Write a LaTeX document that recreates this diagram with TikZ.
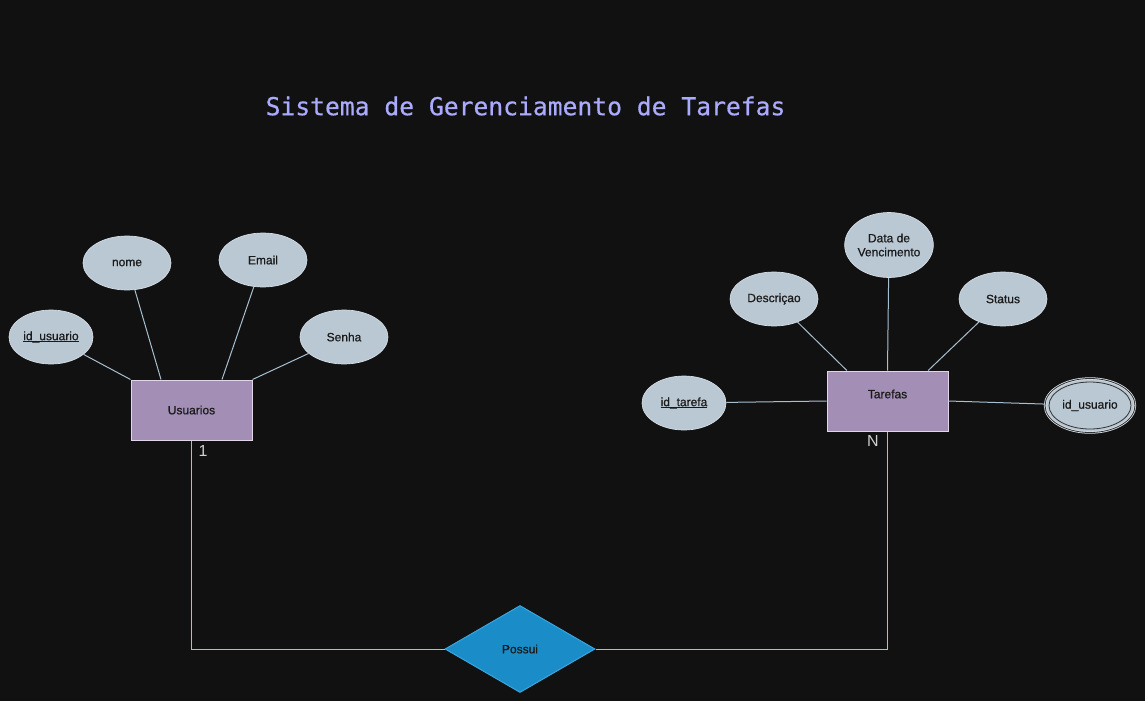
\documentclass[tikz,border=0pt]{standalone}
\usepackage{fontspec}
\setmainfont{Liberation Sans}
\newfontfamily\shapefont[FakeBold=0.7]{Liberation Sans}
\newfontfamily\titlefont[FakeBold=0.5]{DejaVu Sans Mono}
\usetikzlibrary{shapes.geometric,calc}
\definecolor{bgc}{HTML}{111111}
\definecolor{attrfill}{HTML}{BAC8D3}
\definecolor{attrdraw}{HTML}{D6DFE6}
\definecolor{entfill}{HTML}{A38EB5}
\definecolor{entdraw}{HTML}{E1D5E7}
\definecolor{relfill}{HTML}{1A8DC8}
\definecolor{reldraw}{HTML}{3AA6E0}
\definecolor{linec}{HTML}{A8BFD0}
\definecolor{txtc}{HTML}{1A1A1A}
\definecolor{cardc}{HTML}{D0D0D0}
\definecolor{titlec}{HTML}{AAAAFF}
\newcommand\keyul[1]{\setbox0\hbox{#1}\rlap{\rule[-1.1pt]{\wd0}{0.5pt}}\box0}
\tikzset{
  attr/.style={ellipse, fill=attrfill, draw=attrdraw, line width=0.5pt, inner sep=0pt,
    minimum width=66pt, minimum height=40.5pt, text=txtc, font=\shapefont\fontsize{9pt}{10.5pt}\selectfont, align=center},
  entity/.style={rectangle, fill=entfill, draw=entdraw, line width=0.75pt, inner sep=0pt,
    minimum width=90.75pt, minimum height=45pt, text=txtc, font=\shapefont\fontsize{9pt}{10.5pt}\selectfont},
  relation/.style={diamond, fill=relfill, draw=reldraw, line width=0.75pt, inner sep=0pt,
    minimum width=112.5pt, minimum height=65.25pt, text=txtc, font=\shapefont\fontsize{9pt}{10.5pt}\selectfont},
  conn/.style={draw=linec, line width=0.75pt},
  card/.style={text=cardc, font=\fontsize{12pt}{14pt}\selectfont, inner sep=0pt},
}
\begin{document}
\begin{tikzpicture}[x=0.75pt, y=-0.75pt]
\useasboundingbox (0,0) rectangle (1145,700);
\fill[bgc] (-5,-5) rectangle (1150,705);

\node[text=titlec, font=\titlefont\fontsize{18.5pt}{22pt}\selectfont, inner sep=0pt] (title) at (525.5,106) {Sistema de Gerenciamento de Tarefas};

% Usuarios
\node[entity] (usr) at (191.5,410) {Usuarios};
\node[attr, minimum width=63pt] (uid) at (51,337) {\keyul{id\_usuario}};
\node[attr] (unome) at (127,263) {nome};
\node[attr] (uemail) at (263,260) {Email};
\node[attr] (usenha) at (344,337) {Senha};

\draw[conn] (uid) -- (usr.north west);
\draw[conn] (unome) -- ($(usr.north west)!0.25!(usr.north east)$);
\draw[conn] (uemail) -- ($(usr.north west)!0.75!(usr.north east)$);
\draw[conn] (usenha) -- (usr.north east);

% Tarefas
\node[entity, label={[text=txtc, font=\shapefont\fontsize{9pt}{10.5pt}\selectfont, yshift=5.25pt]center:Tarefas}] (tar) at (887.5,401) {};
\node[attr, minimum width=63pt] (tid) at (684,403) {\keyul{id\_tarefa}};
\node[attr] (tdesc) at (774,299) {Descriçao};
\node[attr, minimum height=48.75pt] (tdata) at (889,245) {Data de\\Vencimento};
\node[attr] (tstatus) at (1003,299) {Status};
\node[attr, minimum width=67.5pt, draw=attrdraw, double=black!80, double distance=0.6pt, line width=0.6pt] (tfk) at (1090,405.5) {id\_usuario};
\node[ellipse, draw=black!80, line width=0.6pt, inner sep=0pt, minimum width=61.5pt, minimum height=35.25pt] (tfkin) at (1090,405.5) {};

\draw[conn] (tdesc) -- ($(tar.north west)!0.1667!(tar.north east)$);
\draw[conn] (tdata) -- (tar.north);
\draw[conn] (tstatus) -- ($(tar.north west)!0.8333!(tar.north east)$);
\draw[conn] (tid) -- (tar.west);
\draw[conn] (tar.east) -- (tfk);

% Relationship
\node[relation] (rel) at (520,649) {Possui};
\draw[conn] (usr.south) |- (rel.west);
\draw[conn] (rel.east) -| (tar.south);

\node[card] (one) at (203,451) {1};
\node[card] (many) at (873,441) {N};
\end{tikzpicture}
\end{document}
